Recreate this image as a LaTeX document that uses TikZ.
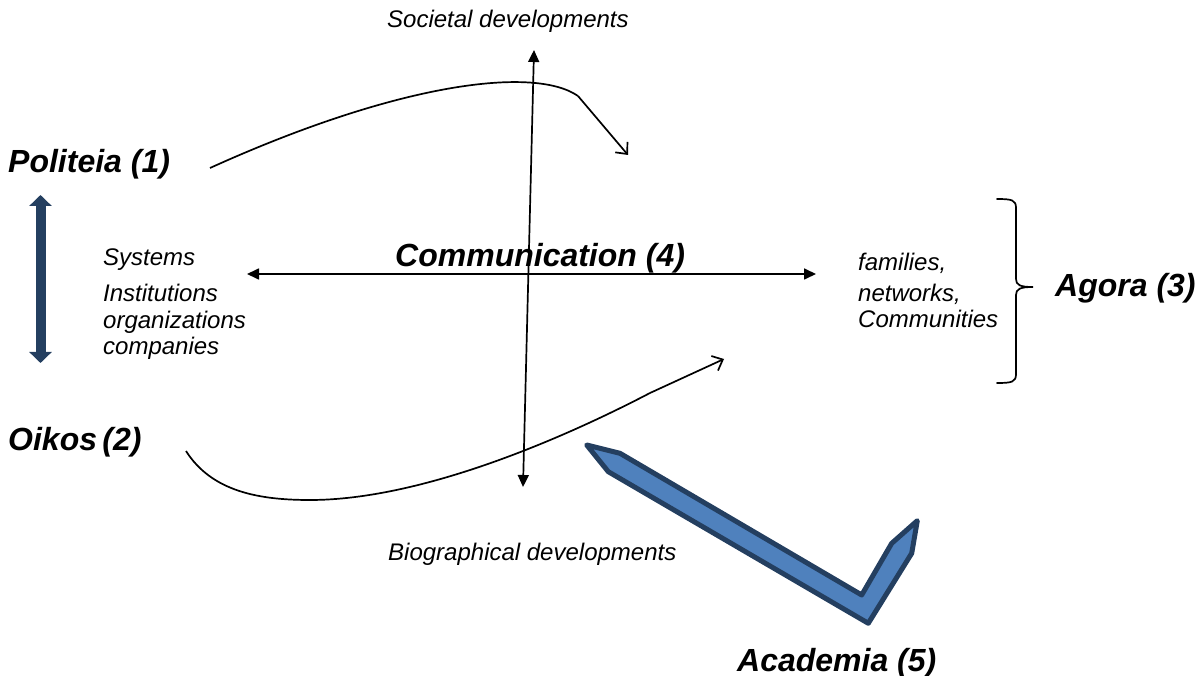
\documentclass[tikz,border=0pt]{standalone}
\usepackage{fontspec}
\setmainfont{Liberation Sans}
\usetikzlibrary{arrows.meta}
\definecolor{navy}{RGB}{36,63,96}
\definecolor{checkblue}{RGB}{79,129,189}
\tikzset{
  small/.style={inner sep=0pt, anchor=base west, font=\fontsize{24}{27}\selectfont\itshape},
  big/.style={inner sep=0pt, anchor=base west, font=\fontsize{32}{38}\selectfont\bfseries\itshape},
  axis/.style={line width=1.7pt, {Triangle[length=12pt,width=11pt]}-{Triangle[length=12pt,width=11pt]}},
  flow/.style={line width=1.7pt, -{Straight Barb[length=9pt,width=16pt,line width=1.7pt]}},
  navyarrow/.style={draw=navy, line width=10pt, {Triangle[length=11pt,width=22pt]}-{Triangle[length=11pt,width=22pt]}, navy},
  checkmark/.style={fill=checkblue, draw=navy, line width=5pt, line join=round},
  bracket/.style={line width=1.7pt, line cap=round}
}
\begin{document}
\begin{tikzpicture}[x=1pt,y=-1pt]
\useasboundingbox (0,0) rectangle (1200,676);

% labels
\node[small] (soc) at (387,28) {Societal developments};
\node[small] (bio) at (388,560) {Biographical developments};
\node[big] (comm) at (395,267) {Communication (4)};
\node[big] (pol) at (8,173) {Politeia (1)};
\node[big] (oik) at (8,450) {Oikos\,(2)};
\node[big] (ago) at (1055,297) {Agora (3)};
\node[big] (aca) at (737,671) {Academia (5)};

\node[small] (sys) at (103,266) {Systems};
\node[small] (ins) at (103,302) {Institutions};
\node[small] (org) at (103,329) {organizations};
\node[small] (com) at (103,355) {companies};

\node[small] (fam) at (858,271) {families,};
\node[small] (net) at (858,302) {networks,};
\node[small] (cmt) at (858,328) {Communities};

% axes
\coordinate (vtop) at (534,50);
\coordinate (vbot) at (523,487);
\coordinate (hl) at (247,274);
\coordinate (hr) at (816,274);
\draw[axis] (vtop) -- (vbot);
\draw[axis] (hl) -- (hr);

% navy double arrow
\coordinate (nt) at (40.5,195);
\coordinate (nb) at (40.5,363);
\draw[navyarrow] (nt) -- (nb);

% curved flows
\coordinate (c1s) at (210,168);
\coordinate (c1k) at (578,96);
\coordinate (c1e) at (628,155);
\draw[line width=1.7pt] (c1s) .. controls (400,82) and (535,66) .. (c1k);
\draw[flow] (c1k) -- (c1e);

\coordinate (c2s) at (186,451);
\coordinate (c2m) at (310,500);
\coordinate (c2k) at (650,393);
\coordinate (c2e) at (724,359);
\draw[line width=1.7pt] (c2s) .. controls (212,492) and (260,500) .. (c2m)
  .. controls (420,500) and (560,440) .. (c2k);
\draw[flow] (c2k) -- (c2e);

% bracket
\coordinate (btop) at (997,199);
\coordinate (btip) at (1033,287);
\coordinate (bbot) at (997,383);
\draw[bracket] (btop) .. controls (1012,199) and (1016,200) .. (1016,208)
  -- (1016,279) .. controls (1016,285) and (1020,287) .. (btip)
  .. controls (1020,287) and (1016,289) .. (1016,295)
  -- (1016,374) .. controls (1016,382) and (1012,383) .. (bbot);

% check mark
\draw[checkmark] (586.7,445) -- (620,453.3) -- (861.7,595) -- (891.7,543.3)
  -- (917.3,520.7) -- (911.7,553.3) -- (868.3,623.3) -- (608.3,471.7) -- cycle;
\end{tikzpicture}
\end{document}
